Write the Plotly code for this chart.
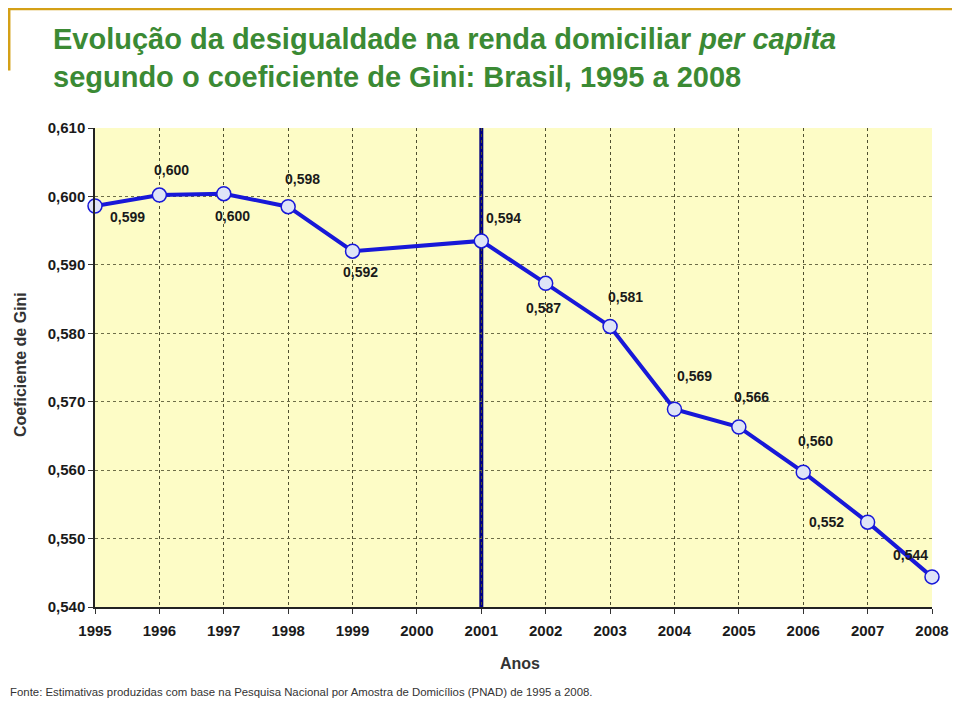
import plotly.graph_objects as go

years = [1995, 1996, 1997, 1998, 1999, 2000, 2001, 2002, 2003, 2004, 2005, 2006, 2007, 2008]
gini = [0.5986, 0.6002, 0.6004, 0.5985, 0.5920, None, 0.5935, 0.5873, 0.5810, 0.5689, 0.5663, 0.5597, 0.5524, 0.5444]
point_labels = ["0,599", "0,600", "0,600", "0,598", "0,592", None, "0,594", "0,587", "0,581", "0,569", "0,566", "0,560", "0,552", "0,544"]
y_ticks = [0.540, 0.550, 0.560, 0.570, 0.580, 0.590, 0.600, 0.610]
marker_year = 2001

# label offsets in pixels (style only)
label_offsets = [(32, 11), (12, -25), (9, 22), (14, -28), (8, 21), None, (22, -23), (-2, 25),
                 (15, -29), (20, -33), (13, -30), (12, -31), (-41, 0), (-22, -22)]

xs = [x for x, v in zip(years, gini) if v is not None]
vs = [v for v in gini if v is not None]

FONT = "Liberation Sans"
fig = go.Figure()
fig.add_trace(go.Scatter(
    x=xs, y=vs, mode="lines+markers",
    line=dict(color="#1818d8", width=4),
    marker=dict(size=14, color="#dfe4f7", line=dict(color="#1818d8", width=1.5)),
    cliponaxis=False, showlegend=False, hoverinfo="skip",
))

# vertical line at 2001
fig.add_shape(type="line", xref="x", yref="paper", x0=marker_year, x1=marker_year, y0=0, y1=1,
              line=dict(color="#000080", width=4), layer="below")

for x, v, lab, off in zip(years, gini, point_labels, label_offsets):
    if v is None:
        continue
    fig.add_annotation(x=x, y=v, text="<b>" + lab + "</b>", showarrow=True, arrowcolor="rgba(0,0,0,0)",
                       ax=off[0], ay=off[1], font=dict(size=14, color="#1a1a1a", family=FONT))

# title
fig.add_annotation(xref="paper", yref="paper", x=-0.0530, y=1.147, yanchor="middle", xanchor="left",
                   showarrow=False, align="left",
                   text="<b>Evolução da desigualdade na renda domiciliar <i>per capita</i><br>segundo o coeficiente de Gini: Brasil, 1995 a 2008</b>",
                   font=dict(size=29, color="#3b8a34", family=FONT))

# decorative border
fig.add_shape(type="line", xref="paper", yref="paper", x0=-0.104, x1=1.04, y0=1.2485, y1=1.2485,
              line=dict(color="#d4a017", width=2.5))
fig.add_shape(type="line", xref="paper", yref="paper", x0=-0.1025, x1=-0.1025, y0=1.25, y1=1.12,
              line=dict(color="#d4a017", width=2.5))

# axis titles
fig.add_annotation(xref="paper", yref="paper", x=0.508, y=-0.117, xanchor="center", yanchor="middle",
                   showarrow=False, text="<b>Anos</b>", font=dict(size=16, color="#333333", family=FONT))
fig.add_annotation(xref="paper", yref="paper", x=-0.0896, y=0.505, xanchor="center", yanchor="middle",
                   showarrow=False, textangle=-90, text="<b>Coeficiente de Gini</b>",
                   font=dict(size=16, color="#333333", family=FONT))

# footnote
fig.add_annotation(xref="paper", yref="paper", x=-0.104, y=-0.177, xanchor="left", yanchor="middle",
                   showarrow=False,
                   text="Fonte: Estimativas produzidas com base na Pesquisa Nacional por Amostra de Domicílios (PNAD) de 1995 a 2008.",
                   font=dict(size=11.4, color="#333333", family=FONT))

fig.update_layout(
    width=952, height=700,
    margin=dict(l=87, r=28, t=120, b=101, autoexpand=False),
    paper_bgcolor="white", plot_bgcolor="#fdfcc6",
    separators=",.",
    font=dict(family=FONT, color="#1a1a1a"),
    showlegend=False,
)
fig.update_xaxes(
    range=[1995, 2008], tickvals=years, ticktext=["<b>%d</b>" % y for y in years],
    tickfont=dict(size=15, color="#1a1a1a"), ticks="outside", ticklen=5, tickcolor="#333",
    ticklabelstandoff=4,
    showgrid=True, gridcolor="#4f4f30", griddash="dot", gridwidth=1.2,
    showline=True, linecolor="#222", linewidth=1.5, zeroline=False,
)
fig.update_yaxes(
    range=[0.540, 0.610], tickvals=y_ticks, ticktext=["<b>%s</b>" % ("%.3f" % t).replace(".", ",") for t in y_ticks],
    tickfont=dict(size=15, color="#1a1a1a"), ticks="outside", ticklen=5, tickcolor="#333",
    showgrid=True, gridcolor="#6e6e48", griddash="dot", gridwidth=1.2,
    showline=True, linecolor="#222", linewidth=1.5, zeroline=False,
)

fig.write_html("out.html")
